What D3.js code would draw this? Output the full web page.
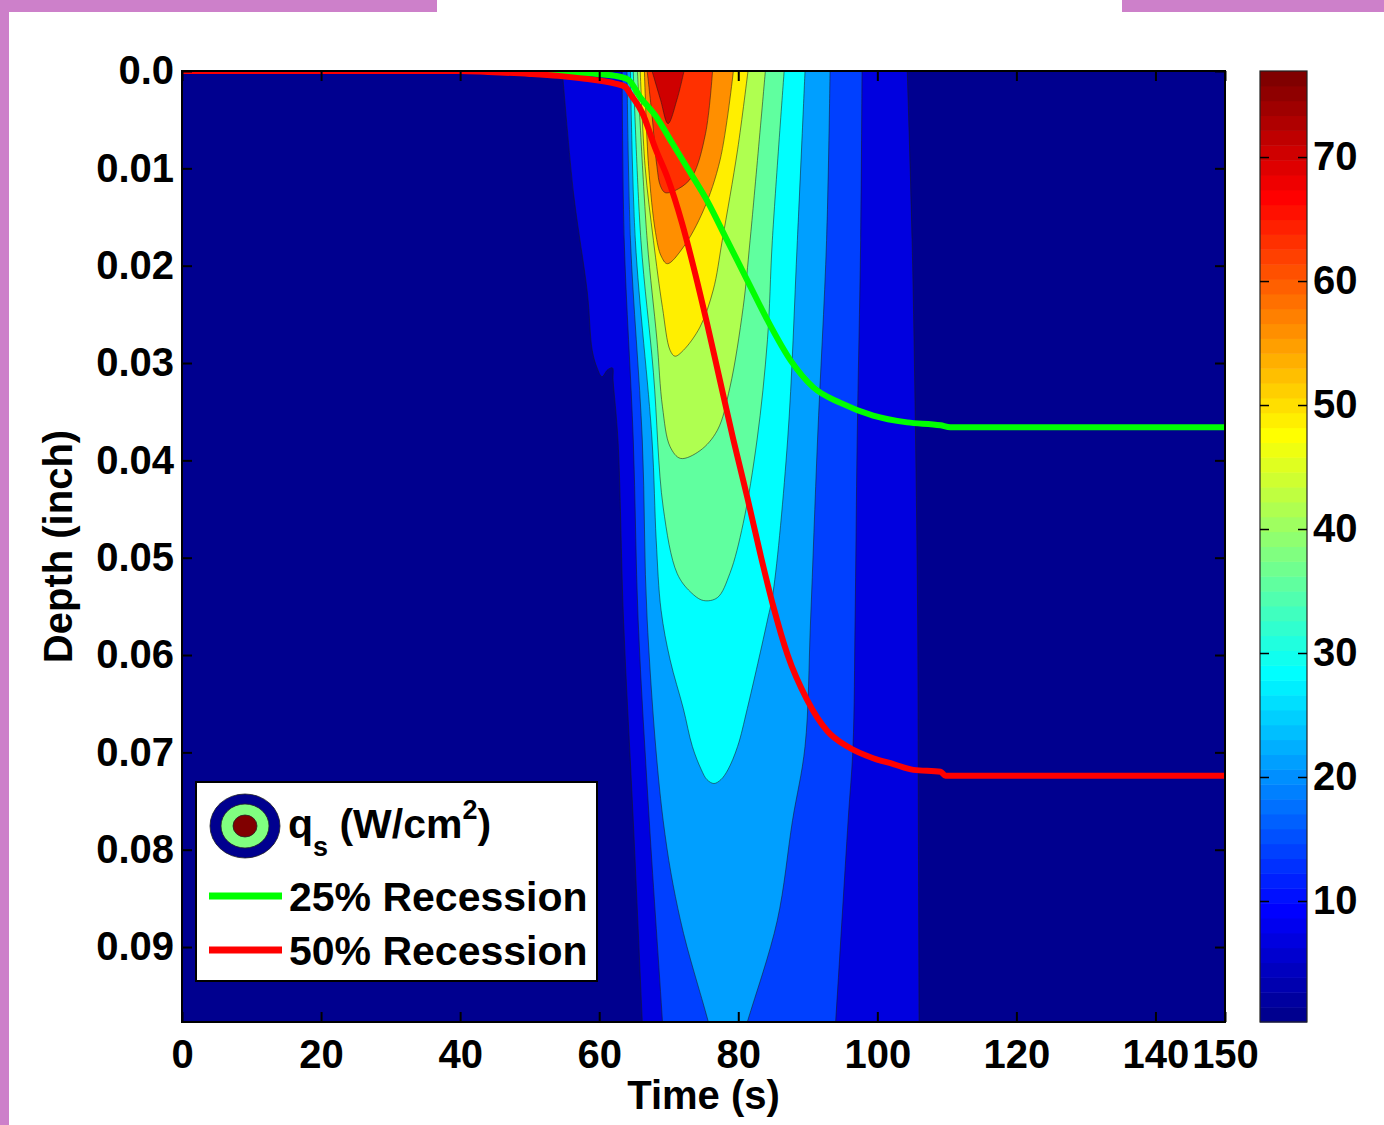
<!DOCTYPE html>
<html>
<head>
<meta charset="utf-8">
<script src="https://cdn.jsdelivr.net/npm/d3@7"></script>
<style>
  html, body { margin: 0; padding: 0; background: #ffffff; }
  svg { display: block; }
  text { font-family: "Liberation Sans", Arial, Helvetica, sans-serif; font-weight: bold; fill: #000; }
</style>
</head>
<body>
<svg id="chart" width="1384" height="1125"></svg>
<script>
// ---------------- data ----------------
const timeTicks = [0, 20, 40, 60, 80, 100, 120, 140, 150];
const timeTickLabels = ["0", "20", "40", "60", "80", "100", "120", "140", "150"];
const depthTicks = [0, 0.01, 0.02, 0.03, 0.04, 0.05, 0.06, 0.07, 0.08, 0.09];
const depthTickLabels = ["0.0", "0.01", "0.02", "0.03", "0.04", "0.05", "0.06", "0.07", "0.08", "0.09"];
const timeDomain = [0, 150];
const depthDomain = [0, 0.0977];
const colorTicks = [10, 20, 30, 40, 50, 60, 70];
const colorLimits = [0.24, 76.94];
const levels = [7, 14, 21, 28, 35, 42, 49, 56, 63, 70];

// contour boundaries of q_s >= level, as [time (s), depth (inch)]
const band07 = [[54.7,0],[56.3,0.0125],[58.3,0.0228],[59.0,0.0287],[59.7,0.0305],[60.4,0.0314],[61.2,0.0307],[61.9,0.0305],[62.0,0.0318],[62.7,0.0379],[63.5,0.0564],[64.9,0.0770],[66.2,0.0977],[66.6,0.104],[106.0,0.104],[106.0,0.0977],[105.9,0.0770],[105.8,0.0564],[105.5,0.0379],[105.0,0.0174],[104.3,0]];
const band14 = [[63.3,0],[63.6,0.0174],[64.9,0.0379],[65.6,0.0564],[67.2,0.0770],[69.1,0.0977],[69.6,0.104],[93.4,0.104],[94.0,0.0977],[95.8,0.0770],[96.5,0.0694],[96.8,0.0564],[97.1,0.0379],[97.6,0.0174],[97.8,0]];
const band21 = [[64.0,0],[64.5,0.0174],[66.2,0.0379],[66.9,0.0564],[69.2,0.0770],[71.7,0.0873],[75.7,0.0977],[78.0,0.104],[78.6,0.104],[81.3,0.0977],[85.6,0.0873],[87.8,0.0770],[89.6,0.0694],[90.4,0.0564],[91.4,0.0379],[92.7,0.0174],[93.2,0]];
const band28 = [[64.5,0],[65.2,0.0174],[67.6,0.0379],[68.2,0.0482],[68.9,0.0554],[70.2,0.0605],[72.1,0.0655],[73.4,0.0694],[74.7,0.0718],[75.5,0.0728],[76.5,0.0732],[77.5,0.0728],[78.5,0.0718],[79.9,0.0694],[81.3,0.0655],[84.2,0.0564],[85.0,0.0536],[87.1,0.0379],[88.5,0.0174],[89.6,0]];
const band35 = [[64.9,0],[66.0,0.0174],[67.8,0.0310],[69.2,0.0448],[71.2,0.0516],[73.1,0.0535],[75.0,0.0544],[77.0,0.0541],[78.8,0.0516],[80.7,0.0465],[82.7,0.0379],[84.2,0.0276],[84.9,0.0174],[86.6,0]];
const band42 = [[65.5,0],[66.9,0.0174],[68.3,0.0276],[69.1,0.0345],[70.2,0.0386],[71.7,0.0398],[74.5,0.0390],[77.0,0.0369],[78.8,0.0325],[80.7,0.0243],[81.7,0.0174],[83.9,0]];
const band49 = [[65.9,0],[66.6,0.0098],[67.8,0.0174],[69.1,0.0243],[70.2,0.0287],[70.9,0.0293],[72.1,0.0287],[74.5,0.0263],[76.4,0.0225],[77.7,0.0174],[79.9,0.0081],[81.4,0]];
const band56 = [[66.5,0],[67.1,0.0098],[68.1,0.0166],[68.9,0.0190],[69.8,0.0198],[72.1,0.0181],[75.0,0.0143],[77.4,0.0091],[79.3,0]];
const band63 = [[66.9,0],[67.6,0.0046],[68.3,0.0098],[68.8,0.0118],[69.5,0.0125],[71.4,0.0121],[73.4,0.0108],[75.3,0.0064],[76.3,0]];
const band70 = [[67.6,0],[68.8,0.0029],[69.9,0.0054],[71.2,0.0029],[72.2,0]];
const bands = [band07, band14, band21, band28, band35, band42, band49, band56, band63, band70];

// recession fronts, [time (s), depth (inch)]
const recession25 = [[0,0],[45,0],[50.9,0.0001],[57.3,0.0002],[62.3,0.0005],[64.2,0.0009],[65.9,0.0027],[68.1,0.0046],[70.5,0.0074],[72.8,0.0101],[75.5,0.0133],[78.4,0.0174],[81.3,0.0215],[84.2,0.0256],[87.5,0.0297],[90.8,0.0325],[94.7,0.0341],[99.4,0.0354],[104.3,0.0361],[109.1,0.0364],[110.5,0.0366],[150,0.0366]];
const recession50 = [[0,0],[40,0],[44,0.0001],[50,0.0003],[54.1,0.0005],[58,0.0008],[62.3,0.0013],[63.7,0.0016],[64.7,0.0026],[66.2,0.0043],[68.1,0.0080],[69.9,0.0111],[71.9,0.0156],[73.8,0.0208],[75.5,0.0259],[77.4,0.0319],[79.3,0.0379],[81.3,0.0438],[83.2,0.0497],[85.0,0.0549],[87.1,0.0600],[89.9,0.0646],[92.8,0.0678],[95.7,0.0694],[99.4,0.0706],[102.3,0.0712],[105.2,0.0718],[109.1,0.0720],[109.8,0.0724],[150,0.0724]];

const legendLabels = ["25% Recession", "50% Recession"];

// ---------------- helpers ----------------
function jet(m) {
  const n = Math.ceil(m / 4);
  const u = [];
  for (let i = 1; i <= n; i++) u.push(i / n);
  for (let i = 0; i < n - 1; i++) u.push(1);
  for (let i = n; i >= 1; i--) u.push(i / n);
  const gOff = Math.ceil(n / 2) - (m % 4 === 1 ? 1 : 0);
  const J = Array.from({length: m}, () => [0, 0, 0]);
  for (let k = 0; k < u.length; k++) {
    const g = gOff + k + 1, r = g + n, b = g - n;
    if (g >= 1 && g <= m) J[g - 1][1] = u[k];
    if (r >= 1 && r <= m) J[r - 1][0] = u[k];
    if (b >= 1 && b <= m) J[b - 1][2] = u[k];
  }
  return J.map(c => d3.rgb(Math.round(c[0] * 255), Math.round(c[1] * 255), Math.round(c[2] * 255)).formatHex());
}
const cmap = jet(64);
function colorOf(v) {
  let i = Math.floor((v - colorLimits[0]) / (colorLimits[1] - colorLimits[0]) * 64);
  i = Math.max(0, Math.min(63, i));
  return cmap[i];
}

// ---------------- layout ----------------
const svg = d3.select("#chart");
const L = 182, R = 1225, T = 71, B = 1022;
const x = d3.scaleLinear().domain(timeDomain).range([L, R]);
const y = d3.scaleLinear().domain(depthDomain).range([T, B]);

// page frame
svg.append("rect").attr("x", 0).attr("y", 0).attr("width", 9).attr("height", 1125).attr("fill", "#cd80ca");
svg.append("rect").attr("x", 0).attr("y", 0).attr("width", 437).attr("height", 12).attr("fill", "#cd80ca");
svg.append("rect").attr("x", 1122).attr("y", 0).attr("width", 262).attr("height", 12).attr("fill", "#cd80ca");

svg.append("defs").append("clipPath").attr("id", "plotclip")
  .append("rect").attr("x", L).attr("y", T).attr("width", R - L).attr("height", B - T);

const plot = svg.append("g").attr("clip-path", "url(#plotclip)");
plot.append("rect").attr("x", L).attr("y", T).attr("width", R - L).attr("height", B - T)
  .attr("fill", colorOf(colorLimits[0]));

const bandLine = d3.line().x(p => x(p[0])).y(p => y(p[1])).curve(d3.curveCatmullRom.alpha(0.5));
bands.forEach((band, i) => {
  plot.append("path")
    .attr("d", bandLine(band) + "Z")
    .attr("fill", colorOf(levels[i]))
    .attr("stroke", "#1a1a1a")
    .attr("stroke-opacity", 0.6)
    .attr("stroke-width", 0.9);
});

const recLine = d3.line().x(p => x(p[0])).y(p => y(p[1])).curve(d3.curveMonotoneX);
plot.append("path").attr("d", recLine(recession25)).attr("fill", "none")
  .attr("stroke", "#00ff00").attr("stroke-width", 6).attr("stroke-linejoin", "round");
plot.append("path").attr("d", recLine(recession50)).attr("fill", "none")
  .attr("stroke", "#ff0000").attr("stroke-width", 6).attr("stroke-linejoin", "round");

// axes
const fs = 40;
const axB = svg.append("g").attr("transform", `translate(0,${B})`)
  .call(d3.axisBottom(x).tickValues(timeTicks).tickFormat((d, i) => timeTickLabels[i]).tickSize(-10).tickPadding(18));
const axT = svg.append("g").attr("transform", `translate(0,${T})`)
  .call(d3.axisTop(x).tickValues(timeTicks).tickFormat("").tickSize(-10));
const axLf = svg.append("g").attr("transform", `translate(${L},0)`)
  .call(d3.axisLeft(y).tickValues(depthTicks).tickFormat((d, i) => depthTickLabels[i]).tickSize(-10).tickPadding(8));
const axRt = svg.append("g").attr("transform", `translate(${R},0)`)
  .call(d3.axisRight(y).tickValues(depthTicks).tickFormat("").tickSize(-10));
[axB, axT, axLf, axRt].forEach(g => {
  g.select(".domain").remove();
  g.selectAll(".tick line").attr("stroke", "#000").attr("stroke-width", 2);
  g.selectAll(".tick text").attr("font-size", fs).attr("font-family", null).attr("fill", "#000");
});

svg.append("rect").attr("x", L).attr("y", T).attr("width", R - L).attr("height", B - T)
  .attr("fill", "none").attr("stroke", "#000").attr("stroke-width", 2);

svg.append("text").attr("transform", `translate(72,${(T + B) / 2}) rotate(-90)`)
  .attr("text-anchor", "middle").attr("font-size", fs).text("Depth (inch)");
svg.append("text").attr("x", (L + R) / 2).attr("y", 1109)
  .attr("text-anchor", "middle").attr("font-size", fs).text("Time (s)");

// colorbar
const cbL = 1260, cbR = 1307;
const cy = d3.scaleLinear().domain(colorLimits).range([B, T]);
const step = (colorLimits[1] - colorLimits[0]) / 64;
const cb = svg.append("g");
cb.selectAll("rect.cell").data(cmap).join("rect").attr("class", "cell")
  .attr("x", cbL).attr("width", cbR - cbL)
  .attr("y", (c, i) => cy(colorLimits[0] + (i + 1) * step))
  .attr("height", (c, i) => cy(colorLimits[0] + i * step) - cy(colorLimits[0] + (i + 1) * step) + 0.5)
  .attr("fill", c => c);
cb.append("rect").attr("x", cbL).attr("y", T).attr("width", cbR - cbL).attr("height", B - T)
  .attr("fill", "none").attr("stroke", "#222").attr("stroke-width", 1.2);
const cbAxR = svg.append("g").attr("transform", `translate(${cbR},0)`)
  .call(d3.axisRight(cy).tickValues(colorTicks).tickSize(-9).tickPadding(6));
const cbAxL = svg.append("g").attr("transform", `translate(${cbL},0)`)
  .call(d3.axisLeft(cy).tickValues(colorTicks).tickFormat("").tickSize(-9));
[cbAxR, cbAxL].forEach(g => {
  g.select(".domain").remove();
  g.selectAll(".tick line").attr("stroke", "#000").attr("stroke-width", 1.5);
  g.selectAll(".tick text").attr("font-size", fs).attr("font-family", null).attr("fill", "#000");
});

// legend
const lg = svg.append("g");
lg.append("rect").attr("x", 196).attr("y", 782).attr("width", 401).attr("height", 199)
  .attr("fill", "#fff").attr("stroke", "#000").attr("stroke-width", 2);
lg.append("ellipse").attr("cx", 245).attr("cy", 826).attr("rx", 35).attr("ry", 32)
  .attr("fill", cmap[0]).attr("stroke", "#222").attr("stroke-width", 0.8);
lg.append("ellipse").attr("cx", 245).attr("cy", 826).attr("rx", 24).attr("ry", 22)
  .attr("fill", cmap[31]).attr("stroke", "#222").attr("stroke-width", 0.8);
lg.append("ellipse").attr("cx", 245).attr("cy", 826).attr("rx", 12).attr("ry", 11)
  .attr("fill", cmap[63]).attr("stroke", "#222").attr("stroke-width", 0.8);
const qt = lg.append("text").attr("x", 288).attr("y", 838).attr("font-size", 41);
qt.append("tspan").text("q");
qt.append("tspan").attr("dy", 18).attr("font-size", 27).text("s");
qt.append("tspan").attr("dy", -18).attr("font-size", 41).text(" (W/cm");
qt.append("tspan").attr("dy", -19).attr("font-size", 27).text("2");
qt.append("tspan").attr("dy", 19).attr("font-size", 41).text(")");
const legendColors = ["#00ff00", "#ff0000"];
legendLabels.forEach((lab, i) => {
  const yy = 896 + i * 54;
  lg.append("line").attr("x1", 209).attr("x2", 282).attr("y1", yy).attr("y2", yy)
    .attr("stroke", legendColors[i]).attr("stroke-width", 7);
  lg.append("text").attr("x", 289).attr("y", yy + 15).attr("font-size", 41).text(lab);
});
</script>
</body>
</html>
